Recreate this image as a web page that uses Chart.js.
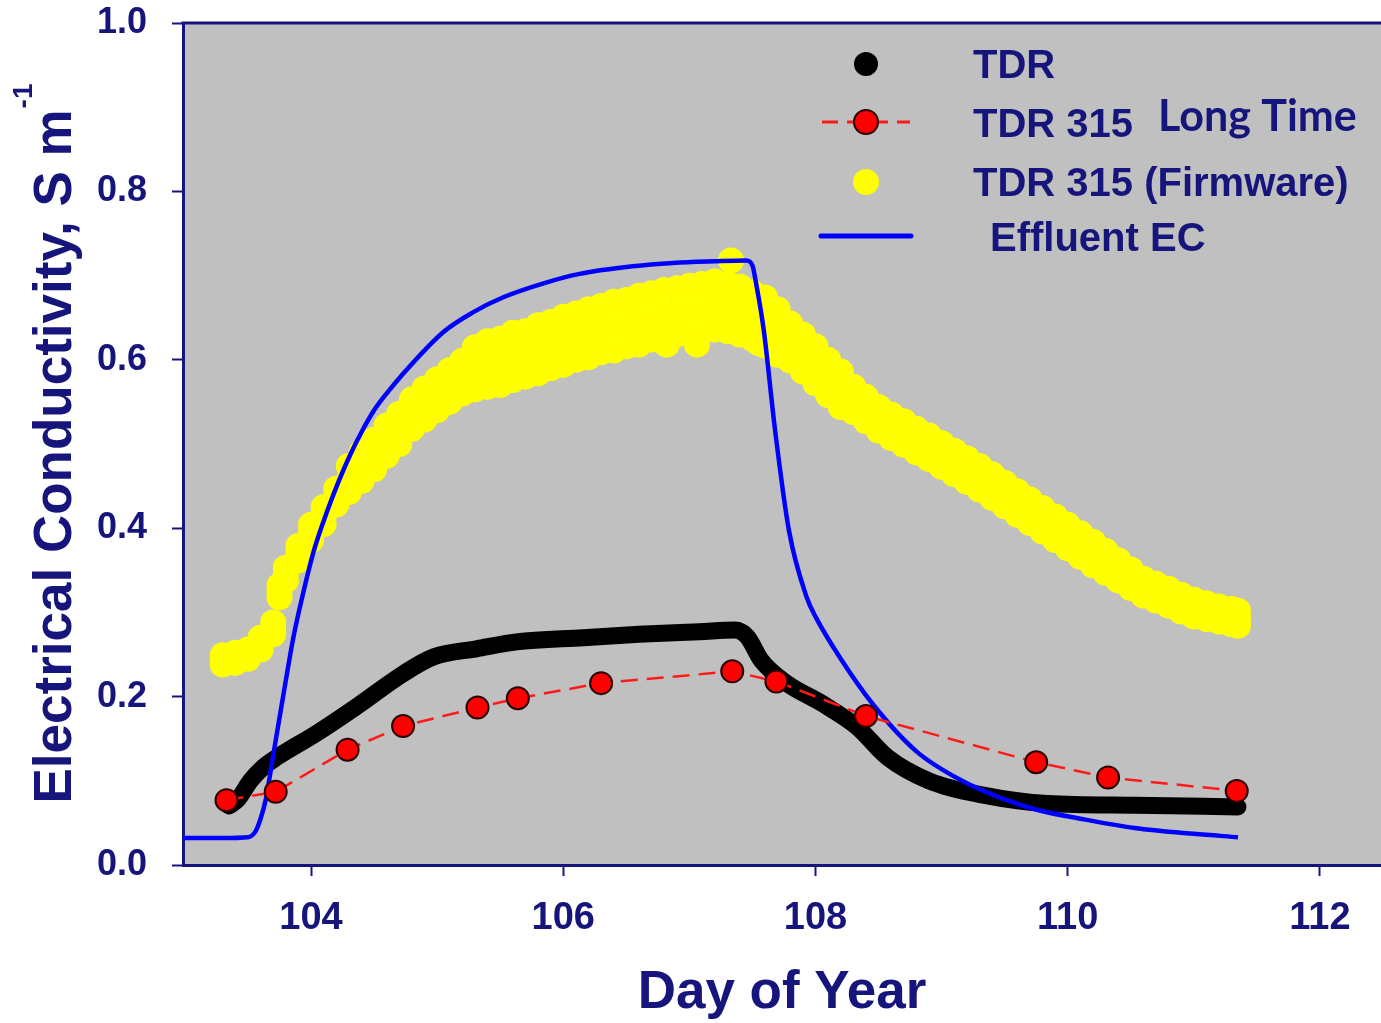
<!doctype html>
<html lang="en">
	<head>
		<meta charset="UTF-8" />
		<title>Electrical Conductivity vs Day of Year</title>
		<script src="https://cdn.jsdelivr.net/npm/chart.js"></script>
		<style>
			body {
				margin: 0;
				background: #ffffff;
				overflow: hidden;
			}
			canvas {
				display: block;
			}
		</style>
	</head>
	<body>
		<canvas id="ecChart" width="1381" height="1023"></canvas>

		<script>
			const NAVY = '#15157c'

			// axis ticks
			const dayTicks = [104, 106, 108, 110, 112]
			const ecTicks = [0, 0.2, 0.4, 0.6, 0.8, 1.0]

			// Effluent EC (continuous line)
			const effluentDay = [
				102.99, 103.3, 103.5, 103.56, 103.6, 103.64, 103.7, 103.8, 103.86,
				103.93, 104.02, 104.13, 104.22, 104.31, 104.4, 104.5, 104.61, 104.71,
				105.05, 105.28, 105.52, 105.87, 106.13, 106.55, 106.87, 107.2, 107.45,
				107.5, 107.53, 107.59, 107.68, 107.79, 107.93, 108.0, 108.2, 108.46,
				108.8, 109.15, 109.5, 109.77, 110.1, 110.53, 111.0, 111.35
			]
			const effluentEC = [
				0.032, 0.032, 0.033, 0.04, 0.055, 0.077, 0.13, 0.219, 0.27, 0.318,
				0.372, 0.421, 0.456, 0.487, 0.514, 0.54, 0.562, 0.58, 0.633, 0.656,
				0.674, 0.692, 0.702, 0.711, 0.715, 0.717, 0.718, 0.712, 0.69, 0.635,
				0.516, 0.397, 0.318, 0.295, 0.245, 0.19, 0.135, 0.101, 0.078, 0.065,
				0.055, 0.044, 0.037, 0.033
			]

			// TDR (dense record, drawn as a thick trace)
			const tdrDay = [
				103.35, 103.42, 103.52, 103.62, 103.73, 104.05, 104.36, 104.73, 104.97,
				105.32, 105.63, 106.16, 106.6, 107.08, 107.36, 107.46, 107.57, 107.77,
				108.05, 108.33, 108.57, 108.9, 109.33, 109.84, 110.53, 111.35
			]
			const tdrEC = [
				0.07, 0.078, 0.1, 0.116, 0.128, 0.157, 0.188, 0.227, 0.247, 0.257,
				0.265, 0.27, 0.274, 0.277, 0.279, 0.271, 0.243, 0.216, 0.192, 0.164,
				0.128, 0.1, 0.083, 0.073, 0.071, 0.069
			]

			// TDR 315 long time readings
			const longDay = [
				103.33, 103.72, 104.29, 104.73, 105.32, 105.64, 106.3, 107.34, 107.69,
				108.4, 109.75, 110.32, 111.34
			]
			const longEC = [
				0.077, 0.087, 0.137, 0.165, 0.187, 0.198, 0.216, 0.23, 0.218, 0.177,
				0.122, 0.104, 0.088
			]

			// TDR 315 firmware readings (scattered band: upper, middle, lower)
			const firmwareDay = [
				103.3, 103.4, 103.5, 103.6, 103.7, 103.75, 103.8, 103.9, 104.0, 104.1,
				104.2, 104.3, 104.4, 104.5, 104.6, 104.7, 104.8, 104.9, 105.0, 105.1,
				105.2, 105.3, 105.4, 105.5, 105.6, 105.7, 105.8, 105.9, 106.0, 106.1,
				106.2, 106.3, 106.4, 106.5, 106.6, 106.7, 106.8, 106.9, 107.0, 107.1,
				107.2, 107.3, 107.4, 107.5, 107.6, 107.7, 107.8, 107.9, 108.0, 108.1,
				108.2, 108.3, 108.4, 108.5, 108.6, 108.7, 108.8, 108.9, 109.0, 109.1,
				109.2, 109.3, 109.4, 109.5, 109.6, 109.7, 109.8, 109.9, 110.0, 110.1,
				110.2, 110.3, 110.4, 110.5, 110.6, 110.7, 110.8, 110.9, 111.0, 111.1,
				111.2, 111.3, 111.35
			]
			const firmwareHigh = [
				0.249, 0.252, 0.256, 0.27, 0.288, 0.332, 0.353, 0.379, 0.404, 0.425,
				0.447, 0.474, 0.49, 0.505, 0.522, 0.536, 0.553, 0.566, 0.577, 0.588,
				0.599, 0.615, 0.622, 0.625, 0.632, 0.634, 0.641, 0.645, 0.651, 0.655,
				0.66, 0.664, 0.669, 0.671, 0.676, 0.679, 0.683, 0.685, 0.688, 0.69,
				0.693, 0.69, 0.687, 0.68, 0.674, 0.66, 0.643, 0.63, 0.616, 0.6, 0.586,
				0.568, 0.556, 0.544, 0.535, 0.527, 0.518, 0.51, 0.501, 0.492, 0.483,
				0.474, 0.464, 0.454, 0.444, 0.434, 0.424, 0.414, 0.404, 0.394, 0.384,
				0.373, 0.362, 0.351, 0.34, 0.334, 0.328, 0.321, 0.315, 0.311, 0.307,
				0.304, 0.302
			]
			const firmwareMid = [
				0.243, 0.246, 0.25, 0.263, 0.281, 0.325, 0.345, 0.37, 0.396, 0.414,
				0.438, 0.457, 0.474, 0.487, 0.504, 0.518, 0.536, 0.546, 0.559, 0.568,
				0.58, 0.588, 0.595, 0.597, 0.604, 0.606, 0.613, 0.616, 0.623, 0.626,
				0.632, 0.635, 0.641, 0.642, 0.648, 0.65, 0.655, 0.656, 0.66, 0.661,
				0.665, 0.661, 0.659, 0.651, 0.646, 0.632, 0.622, 0.607, 0.595, 0.578,
				0.566, 0.552, 0.542, 0.529, 0.522, 0.512, 0.505, 0.495, 0.488, 0.477,
				0.47, 0.459, 0.451, 0.439, 0.431, 0.419, 0.411, 0.399, 0.391, 0.379,
				0.371, 0.359, 0.351, 0.339, 0.331, 0.323, 0.319, 0.31, 0.306, 0.301,
				0.299, 0.294, 0.293
			]
			const firmwareLow = [
				0.238, 0.24, 0.245, 0.256, 0.274, 0.318, 0.338, 0.362, 0.386, 0.405,
				0.428, 0.443, 0.456, 0.47, 0.486, 0.5, 0.518, 0.529, 0.54, 0.55, 0.56,
				0.565, 0.568, 0.57, 0.576, 0.58, 0.584, 0.59, 0.594, 0.6, 0.603, 0.609,
				0.611, 0.616, 0.618, 0.624, 0.626, 0.63, 0.631, 0.635, 0.636, 0.634,
				0.63, 0.625, 0.617, 0.606, 0.599, 0.586, 0.572, 0.558, 0.544, 0.538,
				0.527, 0.516, 0.507, 0.499, 0.49, 0.482, 0.473, 0.464, 0.455, 0.446,
				0.436, 0.426, 0.416, 0.406, 0.396, 0.386, 0.376, 0.366, 0.356, 0.347,
				0.338, 0.329, 0.32, 0.314, 0.308, 0.301, 0.295, 0.292, 0.289, 0.286,
				0.284
			]
			const firmwareStrayDay = [105.32, 106.82, 107.06, 107.33, 107.55]
			const firmwareStrayEC = [0.603, 0.618, 0.618, 0.718, 0.62]

			const pairs = (xs, ys) => xs.map((x, i) => ({ x, y: ys[i] }))

			const firmwarePoints = [
				...pairs(firmwareDay, firmwareLow),
				...pairs(firmwareDay, firmwareMid),
				...pairs(firmwareDay, firmwareHigh),
				...pairs(firmwareStrayDay, firmwareStrayEC)
			]

			const FONT = '"Liberation Sans", Arial, sans-serif'

			// grey plot background, top frame line and y title
			const plotFrame = {
				id: 'plotFrame',
				beforeDraw(chart) {
					const { ctx, chartArea: a } = chart
					ctx.save()
					ctx.fillStyle = '#c0c0c0'
					ctx.fillRect(a.left, a.top, a.right - a.left, a.bottom - a.top)
					ctx.restore()
				},
				afterDraw(chart) {
					const { ctx, chartArea: a } = chart
					ctx.save()
					ctx.strokeStyle = NAVY
					ctx.lineWidth = 3
					ctx.beginPath()
					ctx.moveTo(a.left - 1.5, a.top)
					ctx.lineTo(a.right, a.top)
					ctx.stroke()

					// y axis title with superscript unit
					const main = 'Electrical Conductivity, S m'
					ctx.fillStyle = NAVY
					ctx.font = 'bold 53px ' + FONT
					const wMain = ctx.measureText(main).width
					ctx.font = 'bold 28px ' + FONT
					const wSup = ctx.measureText('-1').width
					ctx.translate(71, (a.top + a.bottom) / 2)
					ctx.rotate(-Math.PI / 2)
					ctx.textBaseline = 'alphabetic'
					ctx.textAlign = 'left'
					const start = -(wMain + wSup) / 2
					ctx.font = 'bold 53px ' + FONT
					ctx.fillText(main, start, 0)
					ctx.font = 'bold 28px ' + FONT
					ctx.fillText('-1', start + wMain + 1, -39)
					ctx.restore()
				}
			}

			// legend drawn inside the plot
			const legendBox = {
				id: 'legendBox',
				afterDatasetsDraw(chart) {
					const { ctx } = chart
					ctx.save()

					ctx.fillStyle = '#000000'
					ctx.beginPath()
					ctx.arc(866, 64, 12, 0, Math.PI * 2)
					ctx.fill()

					ctx.strokeStyle = '#ff1a1a'
					ctx.lineWidth = 3
					ctx.setLineDash([16, 9])
					ctx.beginPath()
					ctx.moveTo(822, 122)
					ctx.lineTo(910, 122)
					ctx.stroke()
					ctx.setLineDash([])
					ctx.fillStyle = '#ff0000'
					ctx.strokeStyle = '#2a0000'
					ctx.lineWidth = 2
					ctx.beginPath()
					ctx.arc(866, 122, 12, 0, Math.PI * 2)
					ctx.fill()
					ctx.stroke()

					ctx.fillStyle = '#ffff00'
					ctx.beginPath()
					ctx.arc(866, 182, 13, 0, Math.PI * 2)
					ctx.fill()

					ctx.strokeStyle = '#0000ff'
					ctx.lineWidth = 5
					ctx.lineCap = 'round'
					ctx.beginPath()
					ctx.moveTo(821, 236)
					ctx.lineTo(911, 236)
					ctx.stroke()

					ctx.fillStyle = NAVY
					ctx.textBaseline = 'alphabetic'
					ctx.font = 'bold 40px ' + FONT
					ctx.fillText('TDR', 973, 78)
					ctx.fillText('TDR 315', 973, 137)
					ctx.fillText('TDR 315 (Firmware)', 973, 196)
					ctx.fillText('Effluent EC', 990, 251)
					ctx.font = 'bold 43px Lato, "Open Sans", sans-serif'
					ctx.fillText('Long Time', 1158, 131)
					ctx.restore()
				}
			}

			new Chart(document.getElementById('ecChart'), {
				type: 'scatter',
				data: {
					datasets: [
						{
							label: 'TDR 315',
							data: pairs(longDay, longEC),
							showLine: true,
							borderColor: '#ff1a1a',
							borderWidth: 2.5,
							borderDash: [17, 9],
							pointRadius: 11,
							pointBackgroundColor: '#ff0000',
							pointBorderColor: '#2a0000',
							pointBorderWidth: 2
						},
						{
							label: 'Effluent EC',
							data: pairs(effluentDay, effluentEC),
							showLine: true,
							borderColor: '#0000ff',
							borderWidth: 4.5,
							pointRadius: 0,
							cubicInterpolationMode: 'monotone'
						},
						{
							label: 'TDR',
							data: pairs(tdrDay, tdrEC),
							showLine: true,
							borderColor: '#000000',
							borderWidth: 17,
							borderCapStyle: 'round',
							borderJoinStyle: 'round',
							pointRadius: 0,
							cubicInterpolationMode: 'monotone'
						},
						{
							label: 'TDR 315 (Firmware)',
							data: firmwarePoints,
							showLine: false,
							pointRadius: 13,
							pointBorderWidth: 0,
							pointBackgroundColor: '#ffff00'
						}
					]
				},
				options: {
					responsive: false,
					animation: false,
					devicePixelRatio: 1,
					layout: { autoPadding: false, padding: { top: 23, right: 0, bottom: 0, left: 0 } },
					plugins: {
						legend: { display: false },
						tooltip: { enabled: false }
					},
					scales: {
						x: {
							type: 'linear',
							min: 102.985,
							max: 112.484,
							afterBuildTicks: (s) => {
								s.ticks = dayTicks.map((v) => ({ value: v }))
							},
							afterFit: (s) => {
								s.height = 158
								s.paddingLeft = 0
								s.paddingRight = 0
							},
							grid: {
								drawOnChartArea: false,
								tickLength: 11,
								tickWidth: 2,
								tickColor: NAVY
							},
							border: { color: NAVY, width: 3 },
							ticks: { font: { family: FONT, size: 38, weight: 'bold' }, color: NAVY, padding: 20, maxRotation: 0 },
							title: {
								display: true,
								text: 'Day of Year',
								color: NAVY,
								font: { family: FONT, size: 53, weight: 'bold', lineHeight: 1.1 },
								padding: { top: 0, bottom: 0 }
							}
						},
						y: {
							min: 0,
							max: 1,
							afterBuildTicks: (s) => {
								s.ticks = ecTicks.map((v) => ({ value: v }))
							},
							afterFit: (s) => {
								s.width = 183
								s.paddingTop = 0
								s.paddingBottom = 0
							},
							grid: {
								drawOnChartArea: false,
								tickLength: 11,
								tickWidth: 2,
								tickColor: NAVY
							},
							border: { color: NAVY, width: 3 },
							ticks: {
								font: { family: FONT, size: 36, weight: 'bold' },
								color: NAVY,
								padding: 25,
								callback: (v) => v.toFixed(1)
							}
						}
					}
				},
				plugins: [plotFrame, legendBox]
			})
		</script>
	</body>
</html>
